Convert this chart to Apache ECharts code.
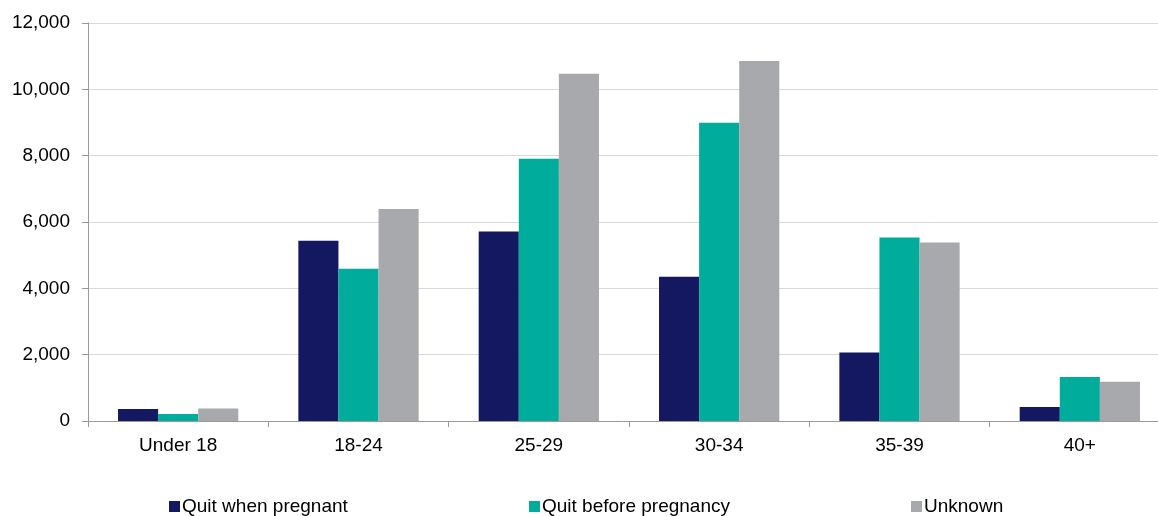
<!DOCTYPE html>
<html>
<head>
<meta charset="utf-8">
<script src="https://cdn.jsdelivr.net/npm/echarts@6/dist/echarts.min.js"></script>
<style>
  html, body { margin: 0; padding: 0; background: #fff; }
  #chart { width: 1158px; height: 516px; }
</style>
</head>
<body>
<div id="chart"></div>
<script>
// Age groups on the category axis
const ageGroups = ['Under 18', '18-24', '25-29', '30-34', '35-39', '40+'];

// Counts for each smoking-status group
const quitWhenPregnant = [362, 5436, 5716, 4350, 2068, 422];
const quitBeforePregnancy = [211, 4591, 7908, 8995, 5535, 1327];
const unknown = [380, 6391, 10470, 10853, 5384, 1185];

const seriesNames = ['Quit when pregnant', 'Quit before pregnancy', 'Unknown'];
const seriesColors = ['#131860', '#00ac9c', '#a8a9ad'];
const seriesData = [quitWhenPregnant, quitBeforePregnancy, unknown];

const chart = echarts.init(document.getElementById('chart'), null, { renderer: 'canvas' });

const fontFamily = '"Liberation Sans", Arial, sans-serif';
const legendLefts = [169, 529, 911];

chart.setOption({
  animation: false,
  textStyle: { fontFamily: fontFamily },
  // plot area runs past the right edge of the canvas
  grid: {
    left: 88, width: 1082, top: 23, height: 398,
    containLabel: false,
    outerBoundsMode: 'none'
  },
  legend: seriesNames.map((name, i) => ({
    data: [name],
    left: legendLefts[i],
    top: 497,
    padding: 0,
    itemWidth: 11,
    itemHeight: 11,
    itemGap: 0,
    icon: 'rect',
    textStyle: { fontSize: 19, color: '#000', fontFamily: fontFamily, padding: [0, 0, 0, -3] }
  })),
  xAxis: {
    type: 'category',
    data: ageGroups,
    axisLine: { lineStyle: { color: '#9a9a9a', width: 1 } },
    axisTick: { show: true, length: 6, alignWithLabel: false, lineStyle: { color: '#9a9a9a' } },
    axisLabel: { fontSize: 19, color: '#000', margin: 15 }
  },
  yAxis: {
    type: 'value',
    min: 0,
    max: 12000,
    interval: 2000,
    axisLine: { show: true, lineStyle: { color: '#9a9a9a', width: 1 } },
    axisTick: { show: true, length: 6, lineStyle: { color: '#9a9a9a' } },
    axisLabel: {
      fontSize: 19,
      color: '#000',
      margin: 18,
      formatter: v => v.toLocaleString('en-US')
    },
    splitLine: { show: true, lineStyle: { color: '#d9d9d9', width: 1 } }
  },
  series: seriesNames.map((name, i) => ({
    name: name,
    type: 'bar',
    data: seriesData[i],
    barGap: '0%',
    barCategoryGap: '33.3%',
    itemStyle: { color: seriesColors[i] }
  }))
});
</script>
</body>
</html>
